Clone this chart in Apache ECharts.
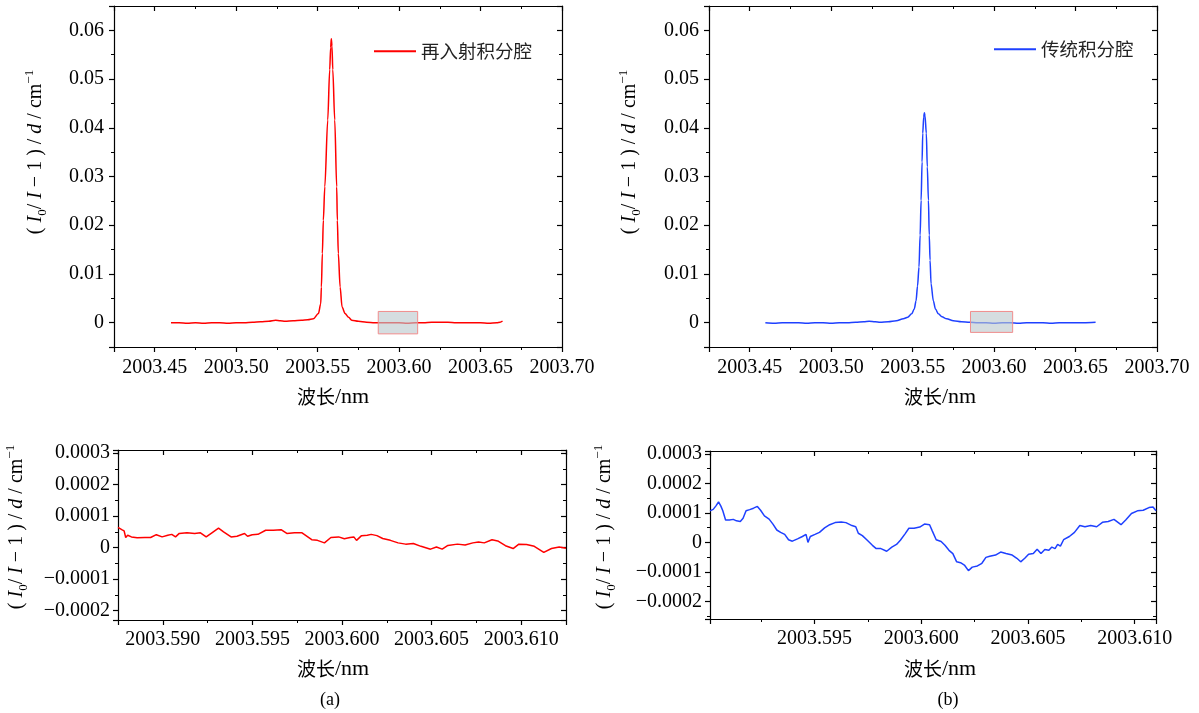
<!DOCTYPE html>
<html><head><meta charset="utf-8">
<script src="https://cdn.jsdelivr.net/npm/echarts@6/dist/echarts.min.js"></script>
<style>html,body{margin:0;padding:0;background:#fff}#c{width:1199px;height:713px}</style>
</head><body><div id="c"></div>
<script>
// ---- data (wavelength nm, (I0/I-1)/d cm^-1) ----
const redMain = [
[2003.4600,0.0000],[2003.4650,0.0000],[2003.4700,-0.0001],[2003.4750,0.0000],[2003.4800,-0.0001],
[2003.4850,0.0000],[2003.4900,0.0000],[2003.4950,-0.0001],[2003.5000,0.0000],[2003.5050,0.0000],
[2003.5100,0.0001],[2003.5150,0.0002],[2003.5200,0.0003],[2003.5242,0.0005],[2003.5270,0.0004],
[2003.5300,0.0003],[2003.5350,0.0004],[2003.5400,0.0005],[2003.5440,0.0006],[2003.5474,0.0008],
[2003.5505,0.0019],[2003.5519,0.0039],[2003.5523,0.0073],[2003.5529,0.0142],[2003.5535,0.0210],
[2003.5544,0.0279],[2003.5562,0.0416],[2003.5574,0.0519],[2003.5580,0.0565],[2003.5584,0.0583],
[2003.5588,0.0568],[2003.5593,0.0519],[2003.5605,0.0416],[2003.5617,0.0279],[2003.5621,0.0210],
[2003.5627,0.0142],[2003.5638,0.0073],[2003.5650,0.0032],[2003.5668,0.0019],[2003.5690,0.0011],
[2003.5709,0.0005],[2003.5750,0.0003],[2003.5800,0.0001],[2003.5850,0.0000],[2003.5900,0.0000],
[2003.5950,0.0000],[2003.6000,0.0000],[2003.6050,-0.0001],[2003.6100,0.0000],[2003.6150,0.0000],
[2003.6200,0.0001],[2003.6250,0.0001],[2003.6300,0.0001],[2003.6350,0.0000],[2003.6400,0.0000],
[2003.6450,0.0000],[2003.6500,0.0000],[2003.6550,-0.0001],[2003.6600,0.0000],[2003.6620,0.0001],
[2003.6635,0.0003]
];
const blueMain = [
[2003.4596,0.0000],[2003.4650,-0.0001],[2003.4700,0.0000],[2003.4750,0.0000],[2003.4800,0.0000],
[2003.4850,-0.0001],[2003.4900,0.0000],[2003.4950,0.0000],[2003.5000,-0.0001],[2003.5050,0.0000],
[2003.5100,0.0000],[2003.5150,0.0001],[2003.5200,0.0002],[2003.5233,0.0003],[2003.5270,0.0002],
[2003.5300,0.0001],[2003.5350,0.0002],[2003.5400,0.0004],[2003.5443,0.0008],[2003.5470,0.0011],
[2003.5494,0.0018],[2003.5510,0.0028],[2003.5521,0.0045],[2003.5530,0.0075],[2003.5539,0.0114],
[2003.5546,0.0180],[2003.5552,0.0251],[2003.5558,0.0330],[2003.5562,0.0389],[2003.5568,0.0422],
[2003.5572,0.0431],[2003.5576,0.0424],[2003.5584,0.0389],[2003.5590,0.0320],[2003.5597,0.0251],
[2003.5602,0.0180],[2003.5607,0.0128],[2003.5613,0.0080],[2003.5627,0.0045],[2003.5640,0.0028],
[2003.5658,0.0018],[2003.5680,0.0012],[2003.5709,0.0008],[2003.5750,0.0004],[2003.5800,0.0002],
[2003.5850,0.0001],[2003.5900,0.0000],[2003.5950,0.0000],[2003.6000,-0.0001],[2003.6050,0.0000],
[2003.6100,0.0000],[2003.6150,-0.0001],[2003.6200,0.0000],[2003.6250,0.0000],[2003.6300,0.0000],
[2003.6350,-0.0001],[2003.6400,0.0000],[2003.6450,0.0000],[2003.6500,0.0000],[2003.6550,0.0000],
[2003.6623,0.0001]
];
const redZoom = [
[2003.58750,0.000064],[2003.58771,0.000057],[2003.58784,0.000053],[2003.58793,0.000032],[2003.58804,0.000039],
[2003.58825,0.000034],[2003.58857,0.000031],[2003.58900,0.000032],[2003.58932,0.000032],[2003.58964,0.000041],
[2003.58996,0.000034],[2003.59028,0.000039],[2003.59050,0.000042],[2003.59071,0.000034],[2003.59092,0.000045],
[2003.59135,0.000047],[2003.59178,0.000045],[2003.59210,0.000047],[2003.59242,0.000034],[2003.59274,0.000047],
[2003.59311,0.000062],[2003.59339,0.000050],[2003.59381,0.000034],[2003.59414,0.000036],[2003.59456,0.000045],
[2003.59473,0.000036],[2003.59499,0.000041],[2003.59531,0.000042],[2003.59574,0.000055],[2003.59617,0.000055],
[2003.59660,0.000057],[2003.59692,0.000045],[2003.59735,0.000047],[2003.59777,0.000047],[2003.59831,0.000025],
[2003.59863,0.000023],[2003.59902,0.000015],[2003.59938,0.000032],[2003.59981,0.000034],[2003.60013,0.000028],
[2003.60045,0.000032],[2003.60066,0.000034],[2003.60081,0.000023],[2003.60109,0.000038],[2003.60141,0.000039],
[2003.60163,0.000042],[2003.60195,0.000038],[2003.60227,0.000029],[2003.60270,0.000023],[2003.60313,0.000015],
[2003.60355,0.000011],[2003.60398,0.000013],[2003.60441,0.000004],[2003.60494,-0.000005],[2003.60527,0.000002],
[2003.60559,-0.000005],[2003.60591,0.000007],[2003.60644,0.000011],[2003.60687,0.000008],[2003.60730,0.000015],
[2003.60762,0.000018],[2003.60794,0.000015],[2003.60837,0.000025],[2003.60869,0.000021],[2003.60912,0.000006],
[2003.60955,-0.000003],[2003.60987,0.000011],[2003.61030,0.000010],[2003.61073,0.000004],[2003.61126,-0.000015],
[2003.61169,-0.000003],[2003.61212,0.000002],[2003.61250,-0.000002]
];
const blueZoom = [
[2003.59010,0.000107],[2003.59025,0.000112],[2003.59037,0.000123],[2003.59050,0.000137],[2003.59061,0.000123],
[2003.59070,0.000107],[2003.59083,0.000076],[2003.59101,0.000076],[2003.59119,0.000078],[2003.59134,0.000073],
[2003.59152,0.000071],[2003.59165,0.000082],[2003.59179,0.000107],[2003.59196,0.000111],[2003.59214,0.000116],
[2003.59232,0.000122],[2003.59247,0.000109],[2003.59265,0.000090],[2003.59287,0.000079],[2003.59305,0.000062],
[2003.59323,0.000042],[2003.59341,0.000034],[2003.59360,0.000027],[2003.59378,0.000009],[2003.59396,0.000004],
[2003.59420,0.000012],[2003.59443,0.000020],[2003.59460,0.000027],[2003.59469,0.000000],[2003.59480,0.000020],
[2003.59502,0.000027],[2003.59523,0.000034],[2003.59547,0.000049],[2003.59571,0.000060],[2003.59596,0.000067],
[2003.59625,0.000069],[2003.59647,0.000067],[2003.59675,0.000057],[2003.59693,0.000053],[2003.59705,0.000031],
[2003.59724,0.000023],[2003.59747,0.000007],[2003.59771,-0.000010],[2003.59789,-0.000021],[2003.59811,-0.000021],
[2003.59838,-0.000030],[2003.59862,-0.000016],[2003.59884,-0.000007],[2003.59902,0.000007],[2003.59924,0.000029],
[2003.59942,0.000048],[2003.59966,0.000048],[2003.59993,0.000052],[2003.60015,0.000062],[2003.60039,0.000060],
[2003.60051,0.000040],[2003.60070,0.000009],[2003.60093,0.000003],[2003.60111,-0.000010],[2003.60130,-0.000027],
[2003.60148,-0.000038],[2003.60166,-0.000066],[2003.60184,-0.000069],[2003.60202,-0.000077],[2003.60221,-0.000096],
[2003.60239,-0.000084],[2003.60263,-0.000080],[2003.60284,-0.000071],[2003.60303,-0.000051],[2003.60321,-0.000047],
[2003.60348,-0.000043],[2003.60372,-0.000033],[2003.60397,-0.000038],[2003.60426,-0.000043],[2003.60448,-0.000054],
[2003.60466,-0.000066],[2003.60485,-0.000054],[2003.60503,-0.000040],[2003.60525,-0.000038],[2003.60543,-0.000023],
[2003.60561,-0.000038],[2003.60579,-0.000024],[2003.60598,-0.000027],[2003.60612,-0.000016],[2003.60627,-0.000021],
[2003.60639,-0.000007],[2003.60652,-0.000013],[2003.60667,0.000009],[2003.60694,0.000020],[2003.60718,0.000034],
[2003.60743,0.000057],[2003.60767,0.000053],[2003.60794,0.000057],[2003.60822,0.000053],[2003.60849,0.000068],
[2003.60876,0.000071],[2003.60903,0.000078],[2003.60936,0.000060],[2003.60958,0.000076],[2003.60985,0.000098],
[2003.61013,0.000107],[2003.61040,0.000109],[2003.61067,0.000118],[2003.61086,0.000120],[2003.61100,0.000107]
];
// zoom-region boxes drawn on the overview plots: [x0, y0, x1, y1]
const redBox = [2003.5872, -0.0023, 2003.6114, 0.0023];
const blueBox = [2003.5855, -0.0020, 2003.6114, 0.0023];
const legendNames = ['再入射积分腔', '传统积分腔'];
const panelLabels = ['(a)', '(b)'];

// ---- styles ----
const NUM = "'Liberation Serif', 'DejaVu Serif', serif";
const CJK = "'Noto Sans CJK SC', sans-serif";
const INK = '#000';
const RED = '#ff0000';
const BLUE = '#1e40ff';

function isMult(v, step) { const k = v / step; return Math.abs(k - Math.round(k)) < 1e-6; }
function fmtFixed(step, dec) {
  return function (v) { if (!isMult(v, step)) return ''; return v.toFixed(dec); };
}
function fmtY(step, dec) {
  return function (v) {
    if (!isMult(v, step)) return '';
    if (Math.abs(v) < step / 100) return '0';
    return v.toFixed(dec).replace('-', '\u2212');
  };
}
const lineSt = {color: '#000', width: 1.2};
function axisPair(kind, gi, min, max, split, formatter, margin) {
  const common = {type: 'value', gridIndex: gi, min: min, max: max, splitNumber: split,
    splitLine: {show: false}, minorSplitLine: {show: false}, scale: true};
  const pos = kind === 'x' ? ['bottom', 'top'] : ['left', 'right'];
  return [
    Object.assign({}, common, {position: pos[0],
      axisLine: {show: true, onZero: false, lineStyle: lineSt},
      axisTick: {show: true, inside: false, length: 5, lineStyle: lineSt},
      minorTick: {show: true, splitNumber: 2, length: 3, lineStyle: {color: '#000', width: 1}},
      axisLabel: {show: true, margin: margin, color: INK, fontFamily: NUM, fontSize: 20,
        formatter: formatter, showMinLabel: true, showMaxLabel: true, hideOverlap: false}}),
    Object.assign({}, common, {position: pos[1],
      axisLine: {show: true, onZero: false, lineStyle: lineSt},
      axisTick: {show: true, inside: true, length: 5, lineStyle: lineSt},
      minorTick: {show: true, splitNumber: 2, length: 3, lineStyle: {color: '#000', width: 1}},
      axisLabel: {show: false}})
  ];
}

const grids = [
  {left: 114, top: 6, width: 448, height: 341},
  {left: 709, top: 6, width: 448, height: 341},
  {left: 118, top: 450, width: 448, height: 170},
  {left: 710, top: 451, width: 446, height: 168}
].map(g => Object.assign(g, {outerBoundsMode: 'none', containLabel: false}));

const xAxis = [].concat(
  axisPair('x', 0, 2003.425, 2003.70, 6, fmtFixed(0.05, 2), 11),
  axisPair('x', 1, 2003.425, 2003.70, 6, fmtFixed(0.05, 2), 11),
  axisPair('x', 2, 2003.5875, 2003.6125, 6, fmtFixed(0.005, 3), 10),
  axisPair('x', 3, 2003.5901, 2003.6110, 5, fmtFixed(0.005, 3), 10)
);
const yAxis = [].concat(
  axisPair('y', 0, -0.005, 0.065, 8, fmtY(0.01, 2), 10),
  axisPair('y', 1, -0.005, 0.065, 8, fmtY(0.01, 2), 10),
  axisPair('y', 2, -0.00023, 0.00031, 6, fmtY(0.0001, 4), 8),
  axisPair('y', 3, -0.00026, 0.00031, 6, fmtY(0.0001, 4), 8)
);

function boxArea(b) {
  return {silent: true, z: 5,
    itemStyle: {color: 'rgba(188,200,205,0.62)', borderColor: '#f08c8c', borderWidth: 1},
    data: [[{coord: [b[0], b[1]]}, {coord: [b[2], b[3]]}]]};
}
function lineSeries(name, data, xi, yi, color, area, smooth) {
  const s = {name: name, type: 'line', data: data, xAxisIndex: xi, yAxisIndex: yi,
    symbol: 'none', showSymbol: false, smooth: smooth || false, smoothMonotone: 'x', clip: true,
    lineStyle: {color: color, width: 1.5}, itemStyle: {color: color}};
  if (area) s.markArea = area;
  return s;
}
const series = [
  lineSeries(legendNames[0], redMain, 0, 0, RED, boxArea(redBox), 0.3),
  lineSeries(legendNames[1], blueMain, 2, 2, BLUE, boxArea(blueBox), 0.3),
  lineSeries('zoomA', redZoom, 4, 4, RED),
  lineSeries('zoomB', blueZoom, 6, 6, BLUE)
];

const yRich = {
  r: {fontFamily: NUM, fontSize: 20, fill: INK, color: INK, lineHeight: 26},
  i: {fontFamily: NUM, fontSize: 20, fontStyle: 'italic', fill: INK, color: INK, lineHeight: 26},
  sb: {fontFamily: NUM, fontSize: 13, fill: INK, color: INK, verticalAlign: 'bottom', lineHeight: 26},
  sp: {fontFamily: NUM, fontSize: 13, fill: INK, color: INK, verticalAlign: 'top', lineHeight: 26}
};
const yNameText = '{r|( }{i|I}{sb|0}{r|/ }{i|I}{r| \u2212 1 ) / }{i|d}{r| / cm}{sp|\u22121}';
const xRich = {
  c: {fontFamily: CJK, fontSize: 19, fill: INK, color: INK},
  s: {fontFamily: NUM, fontSize: 22, fill: INK, color: INK}
};
function yName(x, y) {
  return {type: 'text', x: x, y: y, rotation: Math.PI / 2, silent: true,
    style: {text: yNameText, rich: yRich, align: 'center', verticalAlign: 'middle',
      textAlign: 'center', textVerticalAlign: 'middle'}};
}
function xName(x, y) {
  return {type: 'text', x: x, y: y, silent: true,
    style: {text: '{c|波长}{s|/nm}', rich: xRich, align: 'center', verticalAlign: 'middle',
      textAlign: 'center', textVerticalAlign: 'middle'}};
}
function plain(x, y, t) {
  return {type: 'text', x: x, y: y, silent: true,
    style: {text: t, font: "18px 'Liberation Serif', serif", fill: INK, align: 'center', verticalAlign: 'middle',
      textAlign: 'center', textVerticalAlign: 'middle'}};
}

const legendCommon = {orient: 'horizontal', padding: 0, itemWidth: 42, itemHeight: 2, icon: 'rect',
  itemGap: 5, selectedMode: false,
  textStyle: {fontFamily: CJK, fontSize: 18.5, color: '#222'}};

const option = {
  animation: false,
  backgroundColor: '#fff',
  grid: grids,
  xAxis: xAxis,
  yAxis: yAxis,
  legend: [
    Object.assign({}, legendCommon, {data: [legendNames[0]], left: 374, top: 42}),
    Object.assign({}, legendCommon, {data: [legendNames[1]], left: 994, top: 40})
  ],
  graphic: [
    yName(36, 152), yName(630, 152), yName(17, 527), yName(605, 527),
    xName(333, 397), xName(940, 397), xName(333, 669), xName(940, 669),
    plain(330, 700, panelLabels[0]), plain(948, 700, panelLabels[1])
  ],
  series: series
};
const chart = echarts.init(document.getElementById('c'), null, {renderer: 'canvas'});
chart.setOption(option);
</script>
</body></html>
